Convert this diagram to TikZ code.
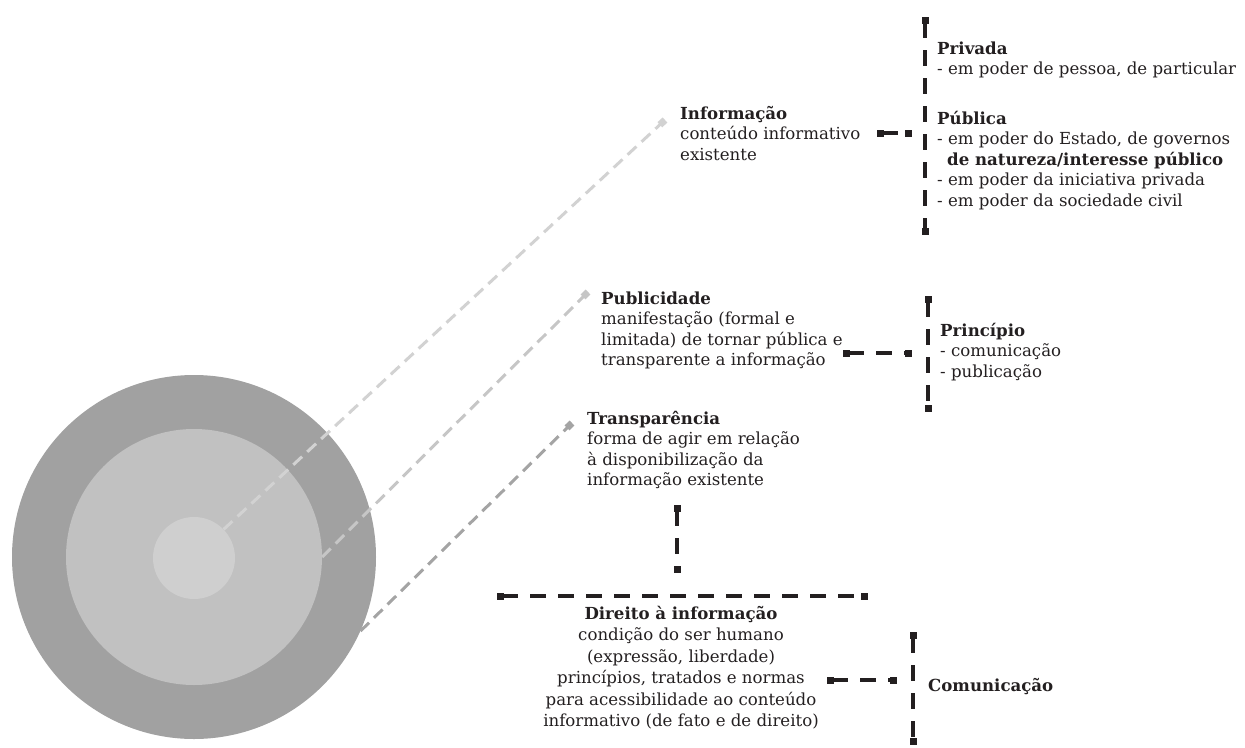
\documentclass[tikz,border=0pt]{standalone}
\usepackage{fontspec}
\setmainfont{DejaVu Serif}
\usetikzlibrary{arrows.meta}
\definecolor{ringout}{HTML}{A1A1A1}
\definecolor{ringmid}{HTML}{C1C1C1}
\definecolor{ringin}{HTML}{CFCFCF}
\definecolor{rayA}{HTML}{D2D2D2}
\definecolor{rayB}{HTML}{C6C6C6}
\definecolor{rayC}{HTML}{A4A4A4}
\definecolor{ink}{HTML}{231F20}

\begin{document}
\begin{tikzpicture}[x=1pt, y=-1pt,
	txt/.style={inner sep=0pt, anchor=base west, align=left, text=ink, font=\fontsize{16.6}{20.5}\selectfont},
	bar/.style={line width=4pt, ink, dash pattern=on 16pt off 12pt, {Square[length=7pt,width=7pt]}-{Square[length=7pt,width=7pt]}},
	ray/.style={line width=3pt, dash pattern=on 12pt off 7pt, -{Square[length=7pt,width=7pt]}},
	disc/.style={circle, inner sep=0pt, draw=none}]% {{{ circulos e raios
	\useasboundingbox (0,0) rectangle (1245,747);
	\node[disc, fill=ringout, minimum size=364pt] (outer) at (194,557) {};
	\node[disc, fill=ringmid, minimum size=256pt] (middle) at (194,557) {};
	\node[disc, fill=ringin, minimum size=82pt] (core) at (194,558) {};

	\coordinate (infotip) at (665,120);
	\coordinate (publitip) at (588,292);
	\coordinate (transptip) at (572,423);
	\draw[ray, rayA] (core.44) -- (infotip);
	\draw[ray, rayB] (middle.east) -- (publitip);
	\draw[ray, rayC] (outer.-24) -- (transptip);

	% textos (ancorados na linha de base da ultima linha)
	\node[txt] (info) at (680,160) {\textbf{Informação}\\conteúdo informativo\\existente};
	\node[txt] (privada) at (937,74.5) {\textbf{Privada}\\- em poder de pessoa, de particular};
	\node[txt] (publica) at (937,206) {\textbf{Pública}\\- em poder do Estado, de governos\\\hspace{0.6em}\textbf{de natureza/interesse público}\\- em poder da iniciativa privada\\- em poder da sociedade civil};
	\node[txt] (publi) at (601,365.5) {\textbf{Publicidade}\\manifestação (formal e\\limitada) de tornar pública e\\transparente a informação};
	\node[txt] (principio) at (940,377) {\textbf{Princípio}\\- comunicação\\- publicação};
	\node[txt] (transp) at (587,485.5) {\textbf{Transparência}\\forma de agir em relação\\à disponibilização da\\informação existente};
	\node[txt, anchor=base, align=center, font=\fontsize{16.6}{21.5}\selectfont] (direito) at (681,726.5) {\textbf{Direito à informação}\\condição do ser humano\\(expressão, liberdade)\\princípios, tratados e normas\\para acessibilidade ao conteúdo\\informativo (de fato e de direito)};
	\node[txt] (comunic) at (928,691) {\textbf{Comunicação}};

	% chaves
	\coordinate (infoL) at (877,133);
	\coordinate (infoR) at (912,133);
	\coordinate (barAtop) at (925,17);
	\coordinate (barAbot) at (925,235);
	\draw[bar] (infoL) -- (infoR);
	\draw[bar] (barAtop) -- (barAbot);

	\coordinate (publiL) at (843,353);
	\coordinate (publiR) at (912,353);
	\coordinate (barBtop) at (928,296);
	\coordinate (barBbot) at (928,412);
	\draw[bar] (publiL) -- (publiR);
	\draw[bar] (barBtop) -- (barBbot);

	\coordinate (transpT) at (677,505);
	\coordinate (transpB) at (677,573);
	\coordinate (baseL) at (497,596);
	\coordinate (baseR) at (868,596);
	\draw[bar] (transpT) -- (transpB);
	\draw[bar] (baseL) -- (baseR);

	\coordinate (direitoL) at (827,680);
	\coordinate (direitoR) at (897,680);
	\coordinate (barCtop) at (913,632);
	\coordinate (barCbot) at (913,745);
	\draw[bar] (direitoL) -- (direitoR);
	\draw[bar] (barCtop) -- (barCbot);
\end{tikzpicture}% }}}
\end{document}
